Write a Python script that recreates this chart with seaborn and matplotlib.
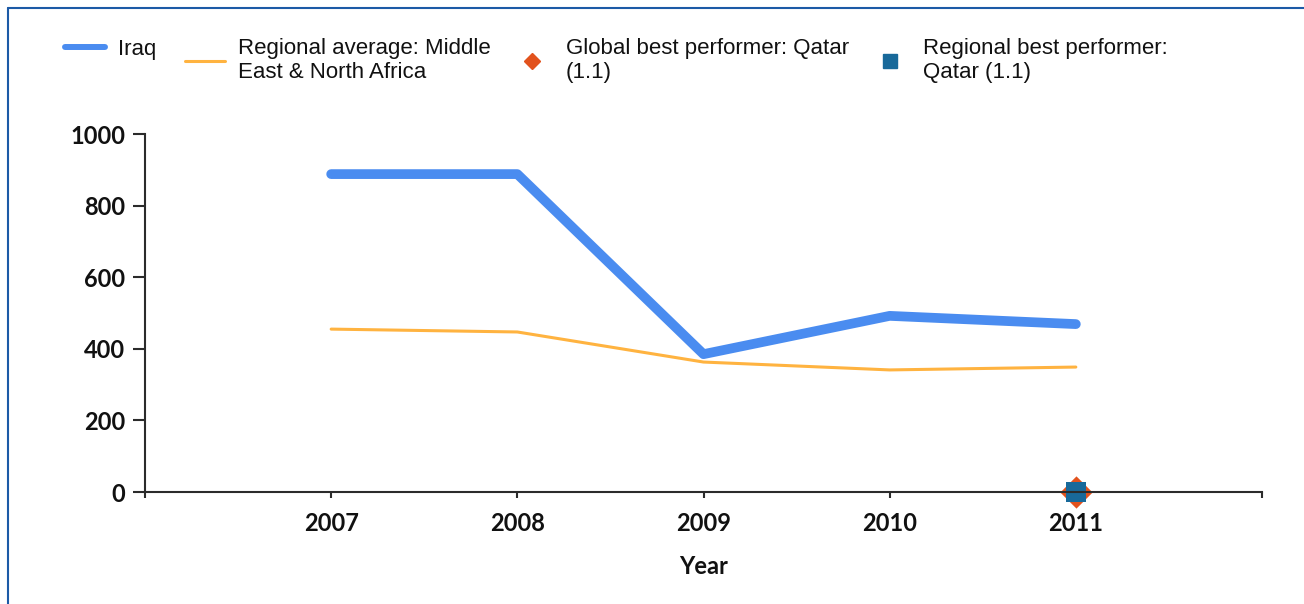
import pandas as pd
import matplotlib
matplotlib.use("Agg")
import matplotlib.pyplot as plt
from matplotlib.lines import Line2D
import seaborn as sns

# data
years = [2007, 2008, 2009, 2010, 2011]
iraq = [888, 888, 385, 492, 469]
regional_avg = [455, 447, 363, 341, 349]
best_year = [2011]
global_best = [1.1]
regional_best = [1.1]

iraq_label = "Iraq"
regional_label = "Regional average: Middle\nEast & North Africa"
global_label = "Global best performer: Qatar\n(1.1)"
region_best_label = "Regional best performer:\nQatar (1.1)"

BLUE = "#4a8cf0"
ORANGE = "#ffb340"
RED = "#e2521d"
TEAL = "#18699a"
SPINE = "#2b2b2b"
INK = "#111111"
FRAME = "#1c5aa6"


def draw_chart():
    sns.set_theme(style="ticks")
    plt.rcParams['font.family'] = ['Lato', 'DejaVu Sans']
    plt.rcParams['text.color'] = INK
    plt.rcParams['axes.labelcolor'] = INK
    plt.rcParams['xtick.labelcolor'] = INK
    plt.rcParams['ytick.labelcolor'] = INK

    fig = plt.figure(figsize=(13.04, 6.04), dpi=100)
    ax = fig.add_axes([145 / 1304, 1 - 492 / 604, (1262 - 145) / 1304, (492 - 134) / 604])

    # the two series as lines
    df = pd.DataFrame({"Year": years, "Iraq": iraq, "Regional": regional_avg})
    sns.lineplot(data=df, x="Year", y="Iraq", color=BLUE, linewidth=7,
                 solid_capstyle="round", ax=ax)
    sns.lineplot(data=df, x="Year", y="Regional", color=ORANGE, linewidth=2.2, ax=ax)

    # best performer markers
    best = pd.DataFrame({"Year": best_year, "Global": global_best, "RegBest": regional_best})
    sns.scatterplot(data=best, x="Year", y="Global", marker="D", s=270, color=RED,
                    linewidth=0, clip_on=False, zorder=2.1, ax=ax)
    sns.scatterplot(data=best, x="Year", y="RegBest", marker="s", s=190, color=TEAL,
                    linewidth=0, clip_on=False, zorder=2.2, ax=ax)

    # axes styling
    ax.set_xlim(2006, 2012)
    ax.set_ylim(0, 1000)
    ax.set_xticks(range(2006, 2013))
    ax.set_xticklabels([""] + [str(y) for y in years] + [""])
    ax.set_yticks(range(0, 1001, 200))
    sns.despine(ax=ax)
    for side in ["left", "bottom"]:
        ax.spines[side].set_linewidth(1.5)
        ax.spines[side].set_color(SPINE)
    ax.tick_params(axis="y", length=9, width=1.5, pad=5, labelsize=17, color=SPINE)
    ax.tick_params(axis="x", length=4.5, width=1.5, pad=10, labelsize=17, color=SPINE)
    for lbl in ax.get_xticklabels() + ax.get_yticklabels():
        lbl.set_fontweight("bold")
    ax.set_xlabel("Year", fontsize=17, fontweight="bold", labelpad=14)
    ax.set_ylabel("")

    # legends across the top
    prop = {"family": "Liberation Sans", "size": 16}
    common = dict(loc="upper left", frameon=False, prop=prop, handlelength=1.8,
                  handletextpad=0.6, borderpad=0, borderaxespad=0, labelcolor=INK)
    fig.legend([Line2D([], [], color=BLUE, lw=4.3)], [iraq_label],
               bbox_to_anchor=(65 / 1304, 1 - 39 / 604), **common)
    handles = [
        Line2D([], [], color=ORANGE, lw=2.2),
        Line2D([], [], ls="", marker="D", color=RED, ms=8),
        Line2D([], [], ls="", marker="s", color=TEAL, ms=9.5),
    ]
    fig.legend(handles, [regional_label, global_label, region_best_label], ncol=3,
               columnspacing=0.95, bbox_to_anchor=(185 / 1304, 1 - 38 / 604), **common)

    # blue frame on the left and top
    fig.add_artist(Line2D([8 / 1304, 8 / 1304], [0, 1 - 8 / 604], color=FRAME, lw=1.5,
                          transform=fig.transFigure))
    fig.add_artist(Line2D([8 / 1304, 1], [1 - 8 / 604, 1 - 8 / 604], color=FRAME, lw=1.5,
                          transform=fig.transFigure))

    fig.savefig("out.png", dpi=100)


if __name__ == '__main__':
    draw_chart()
